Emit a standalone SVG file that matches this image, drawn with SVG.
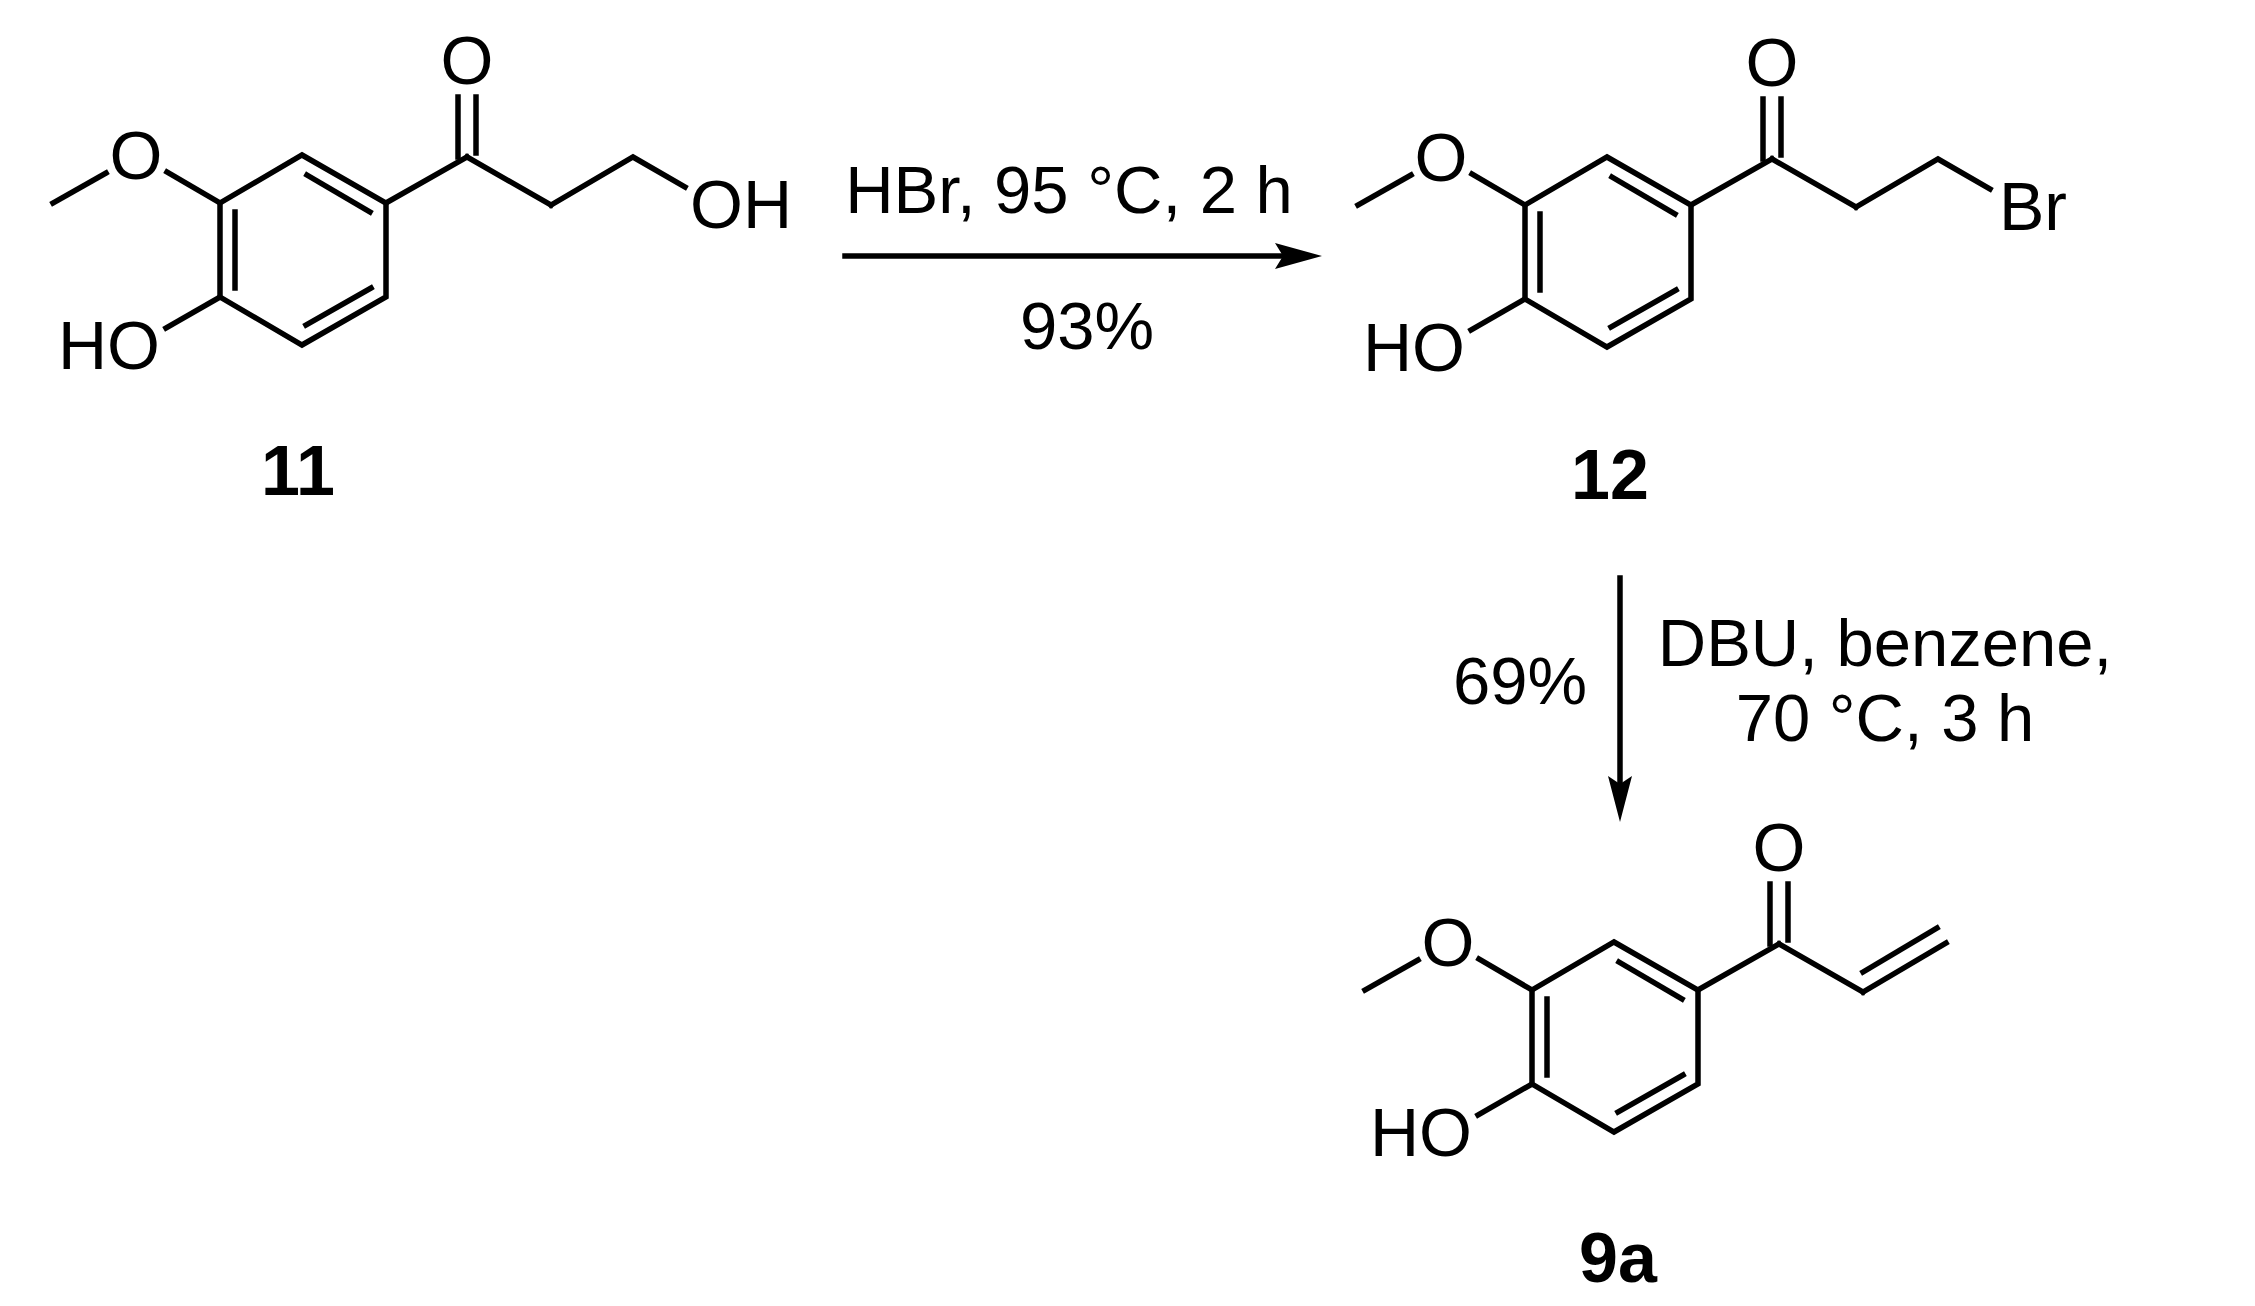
<svg xmlns="http://www.w3.org/2000/svg" width="2255" height="1306" viewBox="0 0 2255 1306">
<style>
.b{stroke:#000;stroke-width:5.5;fill:none;stroke-linecap:square;stroke-linejoin:miter}
.t{font-family:"Liberation Sans",Arial,sans-serif;font-size:68px;fill:#000}
.l{font-family:"Liberation Sans",Arial,sans-serif;font-size:70px;font-weight:bold;fill:#000;text-anchor:middle}
.c{font-family:"Liberation Sans",Arial,sans-serif;font-size:67px;fill:#000}
</style>
<defs>
<g id="core">
<polygon class="b" points="302,155 386,203 386,297 302,345 220,297 220,203"/>
<line class="b" x1="235" y1="212" x2="235" y2="288"/>
<line class="b" x1="307" y1="175" x2="370" y2="212"/>
<line class="b" x1="371" y1="288" x2="306" y2="325"/>
<line class="b" x1="386" y1="203" x2="467" y2="157"/>
<line class="b" x1="458" y1="97" x2="458" y2="157"/>
<line class="b" x1="476" y1="97" x2="476" y2="153"/>
<text class="t" x="467" y="84" text-anchor="middle">O</text>
<line class="b" x1="220" y1="203" x2="167" y2="172"/>
<text class="t" x="136" y="179" text-anchor="middle">O</text>
<line class="b" x1="106" y1="173" x2="53" y2="203"/>
<line class="b" x1="220" y1="297" x2="166" y2="328"/>
<text class="t" x="160" y="369" text-anchor="end">HO</text>
<line class="b" x1="467" y1="157" x2="551" y2="205"/>
</g>
</defs>
<g id="c11">
<use href="#core"/>
<polyline class="b" points="551,205 633,157 685,187"/>
<text class="t" x="690" y="228">OH</text>
<text class="l" x="298" y="495">11</text>
</g>
<g id="c12">
<g transform="translate(1305,2)">
<use href="#core"/>
<polyline class="b" points="551,205 633,157 685,187"/>
<text class="t" x="694" y="228">Br</text>
</g>
<text class="l" x="1610" y="499">12</text>
</g>
<g id="c9a">
<g transform="translate(1312,787)">
<use href="#core"/>
<line class="b" x1="551" y1="205" x2="634" y2="156"/>
<line class="b" x1="551" y1="185" x2="625" y2="141"/>
</g>
<text class="l" x="1618" y="1282">9a</text>
</g>
<g id="connectors">
<line class="b" x1="845" y1="256" x2="1285" y2="256"/>
<polygon points="1322,256 1275,243 1283,256 1275,269" fill="#000"/>
<text class="c" x="1069" y="213" text-anchor="middle">HBr, 95 °C, 2 h</text>
<text class="c" x="1087" y="349" text-anchor="middle">93%</text>
<line class="b" x1="1620" y1="578" x2="1620" y2="785"/>
<polygon points="1620,822 1608,776 1620,784 1632,776" fill="#000"/>
<text class="c" x="1520" y="704" text-anchor="middle">69%</text>
<text class="c" x="1885" y="666" text-anchor="middle">DBU, benzene,</text>
<text class="c" x="1885" y="741" text-anchor="middle">70 °C, 3 h</text>
</g>
</svg>
